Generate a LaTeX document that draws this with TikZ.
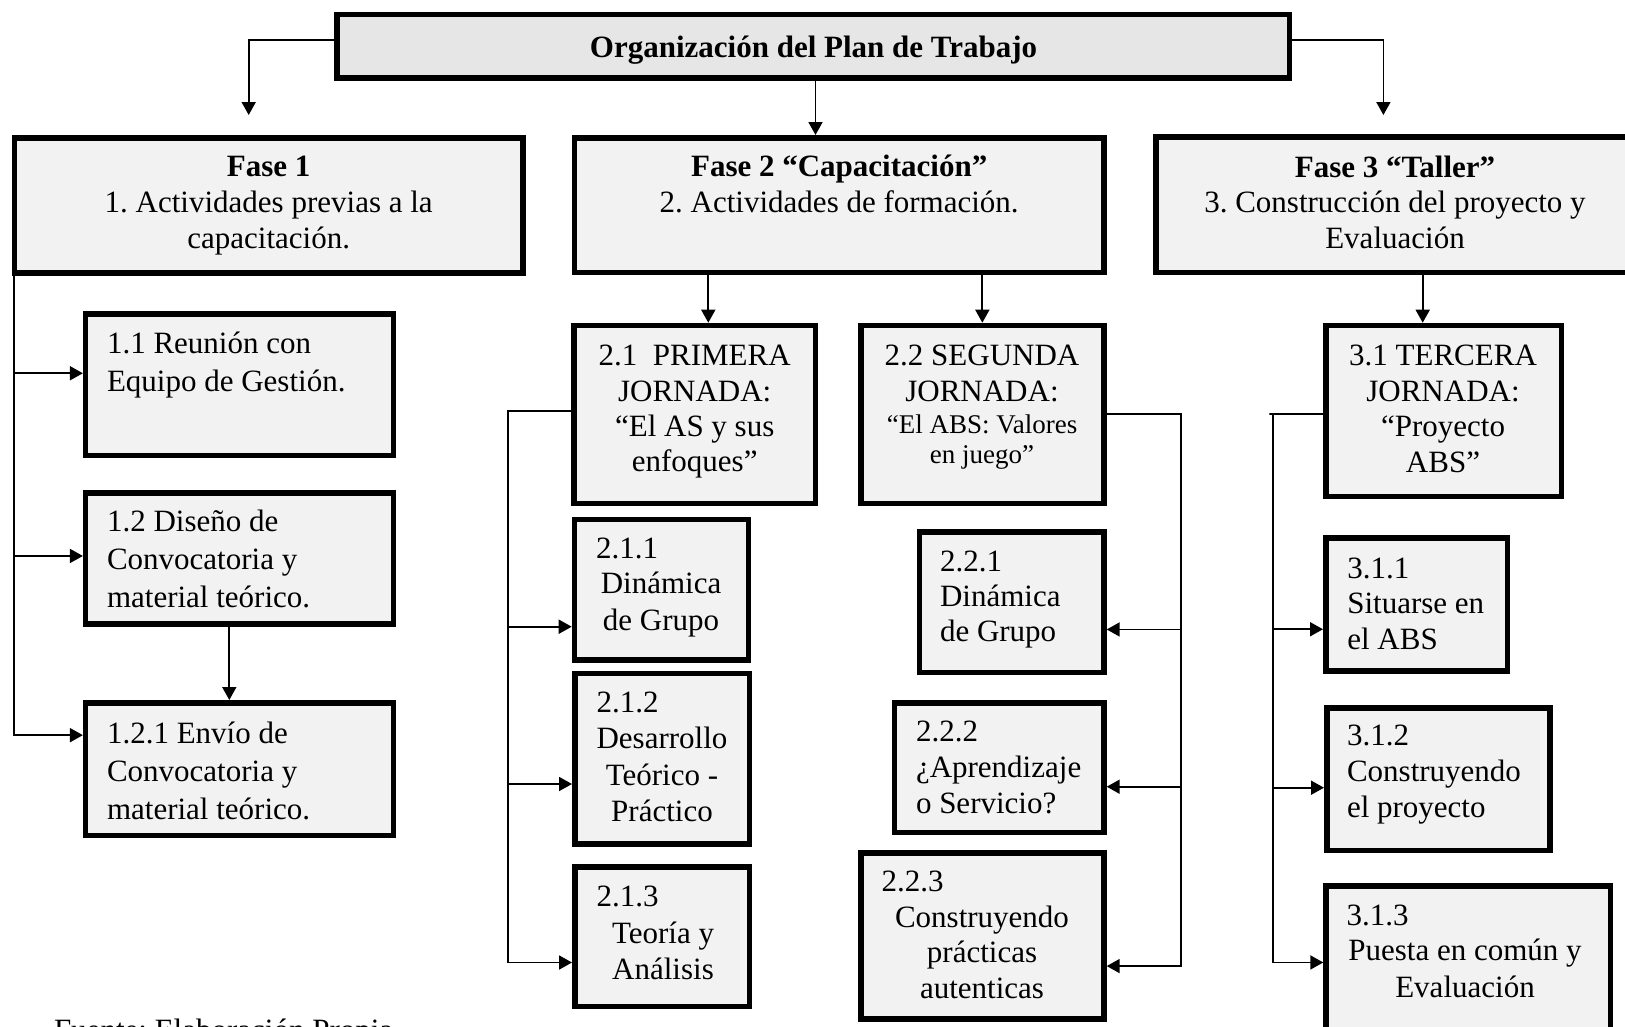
\documentclass[tikz,border=0pt]{standalone}
\usepackage{fontspec}
\setmainfont{Liberation Serif}
\usetikzlibrary{arrows.meta}
\definecolor{boxfill}{HTML}{F2F2F2}
\definecolor{titlefill}{HTML}{E7E6E6}
\frenchspacing
\tikzset{
  box/.style={draw=black, line width=5.5pt, fill=boxfill, inner sep=0pt, rectangle},
  titlebox/.style={box, fill=titlefill},
  arr/.style={draw=black, line width=1.8pt, line join=miter, -{Triangle[length=13pt,width=14pt]}},
  txt/.style={inner sep=0pt, outer sep=0pt}
}
% box from outer corners (x1,y1)-(x2,y2)
\newcommand\mkbox[6][box]{\node[#1, minimum width={#4-#2-5.5}, minimum height={#5-#3-5.5}] (#6) at ({(#2+#4)/2},{(#3+#5)/2}) {};}
% text block: name, anchor, first baseline position, baselineskip, column, rows
\newcommand\tx[6]{\node[txt,anchor=#2] (#1) at (#3) {\fontsize{31}{#4}\selectfont\begin{tabular}[t]{@{}#5@{}}#6\end{tabular}};}
\begin{document}
\begin{tikzpicture}[x=1pt,y=-1pt]
\fill[white] (0,0) rectangle (1625,1026);
\useasboundingbox (0,0) rectangle (1625,1026);
\clip (0,0) rectangle (1625,1026);

% boxes
\mkbox[titlebox]{334}{11.7}{1292}{80.7}{title}
\mkbox{11.8}{135}{525.7}{275.7}{f1}
\mkbox{571.7}{135}{1106.7}{275}{f2}
\mkbox{1153}{134}{1640}{275}{f3}
\mkbox{82.9}{311}{396.4}{458.3}{b11}
\mkbox{82.9}{490}{396.4}{626.7}{b12}
\mkbox{82.9}{700}{396.4}{838.3}{b121}
\mkbox{571}{322.7}{818.3}{506}{b21}
\mkbox{571.7}{516.7}{751}{662.7}{b211}
\mkbox{572}{670.7}{752}{846.7}{b212}
\mkbox{572}{864}{752}{1009}{b213}
\mkbox{858}{322.7}{1106.7}{506}{b22}
\mkbox{916.7}{529.3}{1106.7}{675}{b221}
\mkbox{891.7}{700}{1106.7}{835}{b222}
\mkbox{858}{850}{1106.7}{1021.7}{b223}
\mkbox{1323.3}{322.7}{1564}{499.3}{b31}
\mkbox{1323}{535.3}{1510}{673.6}{b311}
\mkbox{1324}{705}{1552.6}{853}{b312}
\mkbox{1323.3}{883.3}{1613.3}{1045}{b313}

% free ends and helper x positions
\coordinate (c1) at (248.7,115);
\coordinate (c3) at (1383.4,115);
\coordinate (am) at (815.5,0);
\coordinate (a21) at (708.3,0);
\coordinate (a31) at (1422.7,0);
\coordinate (a12) at (229.3,0);

% connectors from title
\draw[arr] ([yshift=6.2pt]title.west) -| (c1);
\draw[arr] ([yshift=6.2pt]title.east) -| (c3);
\draw[arr] (title.south -| am) -- (f2.north -| am);

% phase 1
\draw[arr] ([xshift=1.8pt]f1.south west) |- ([yshift=11.4pt]b11.west);
\draw[arr] ([xshift=1.8pt]f1.south west) |- ([yshift=2.4pt]b12.west);
\draw[arr] ([xshift=1.8pt]f1.south west) |- ([yshift=34pt]b121.west);
\draw[arr] (b12.south -| a12) -- (b121.north -| a12);

% phase 2
\draw[arr] (f2.south -| a21) -- (b21.north -| a21);
\draw[arr] (f2.south -| b22.north) -- (b22.north);
\draw[arr] ([yshift=3.3pt]b21.west) -- ++(-63.3,0) |- ([yshift=-37pt]b211.west);
\draw[arr] ([yshift=3.3pt]b21.west) -- ++(-63.3,0) |- ([yshift=-25.3pt]b212.west);
\draw[arr] ([yshift=3.3pt]b21.west) -- ++(-63.3,0) |- ([yshift=-26pt]b213.west);
\draw[arr] (b22.east) -- ++(74,0) |- ([yshift=-27.3pt]b221.east);
\draw[arr] (b22.east) -- ++(74,0) |- ([yshift=-19.2pt]b222.east);
\draw[arr] (b22.east) -- ++(74,0) |- ([yshift=-30.2pt]b223.east);

% phase 3
\draw[arr] (f3.south -| a31) -- (b31.north -| a31);
\draw[arr] ([yshift=-3.3pt]b31.west) -- ++(-54,0) -- ++(4,0) |- ([yshift=-24.8pt]b311.west);
\draw[arr] ([yshift=-3.3pt]b31.west) -- ++(-50,0) |- ([yshift=-8.7pt]b312.west);
\draw[arr] ([yshift=-3.3pt]b31.west) -- ++(-50,0) |- ([yshift=1.7pt]b313.west);

% texts
\tx{ttitle}{base}{813.5,57}{36}{c}{\bfseries Organización del Plan de Trabajo}
\tx{tf1}{base}{268.7,176.7}{35.8}{c}{\bfseries Fase 1\\1. Actividades previas a la\\capacitación.}
\tx{tf2}{base}{839.2,176.7}{36}{c}{\bfseries Fase 2 “Capacitación”\\2. Actividades de formación.}
\tx{tf3}{base}{1395,177}{35.8}{c}{\bfseries Fase 3 “Taller”\\3. Construcción del proyecto y\\Evaluación}

\tx{t11}{base west}{107,353.3}{38.4}{l}{1.1 Reunión con\\Equipo de Gestión.}
\tx{t12}{base west}{107,531.7}{37.8}{l}{1.2 Diseño de\\Convocatoria y\\material teórico.}
\tx{t121}{base west}{107,743.3}{38}{l}{1.2.1 Envío de\\Convocatoria y\\material teórico.}

\tx{t21}{base}{694.7,365.7}{35.3}{c}{2.1\ \ PRIMERA\\JORNADA:\\“El AS y sus\\enfoques”}
\tx{n211}{base west}{596,558}{36}{l}{2.1.1}
\tx{t211}{base}{661,593.3}{36.7}{c}{Dinámica\\de Grupo}
\tx{n212}{base west}{596.7,712.7}{36}{l}{2.1.2}
\tx{t212}{base}{662,748.3}{36.7}{c}{Desarrollo\\Teórico -\\Práctico}
\tx{n213}{base west}{596.7,906.7}{36}{l}{2.1.3}
\tx{t213}{base}{663,943.3}{36}{c}{Teoría y\\Análisis}

\tx{t22}{base}{982,365.7}{36}{c}{2.2 SEGUNDA\\JORNADA:\\[-4.4pt]{\fontsize{27}{31}\selectfont “El ABS: Valores}\\[-6pt]{\fontsize{27}{31}\selectfont en juego”}}
\tx{t221}{base west}{940,571.7}{35}{l}{2.2.1\\Dinámica\\de Grupo}
\tx{t222}{base west}{916,741}{36}{l}{2.2.2\\¿Aprendizaje\\o Servicio?}
\tx{n223}{base west}{881.7,891.7}{36}{l}{2.2.3}
\tx{t223}{base}{982,927.3}{35.5}{c}{Construyendo\\prácticas\\autenticas}

\tx{t31}{base}{1443,365.7}{35.5}{c}{3.1 TERCERA\\JORNADA:\\“Proyecto\\ABS”}
\tx{t311}{base west}{1347.3,578.3}{35.5}{l}{3.1.1\\Situarse en\\el ABS}
\tx{t312}{base west}{1347,745.5}{36.2}{l}{3.1.2\\Construyendo\\el proyecto}
\tx{n313}{base west}{1346.7,925}{36}{l}{3.1.3}
\tx{t313}{base}{1465,960.7}{36.6}{c}{Puesta en común y\\Evaluación}

\tx{tsrc}{base west}{54,1040.5}{36}{l}{Fuente: Elaboración Propia}
\end{tikzpicture}
\end{document}
